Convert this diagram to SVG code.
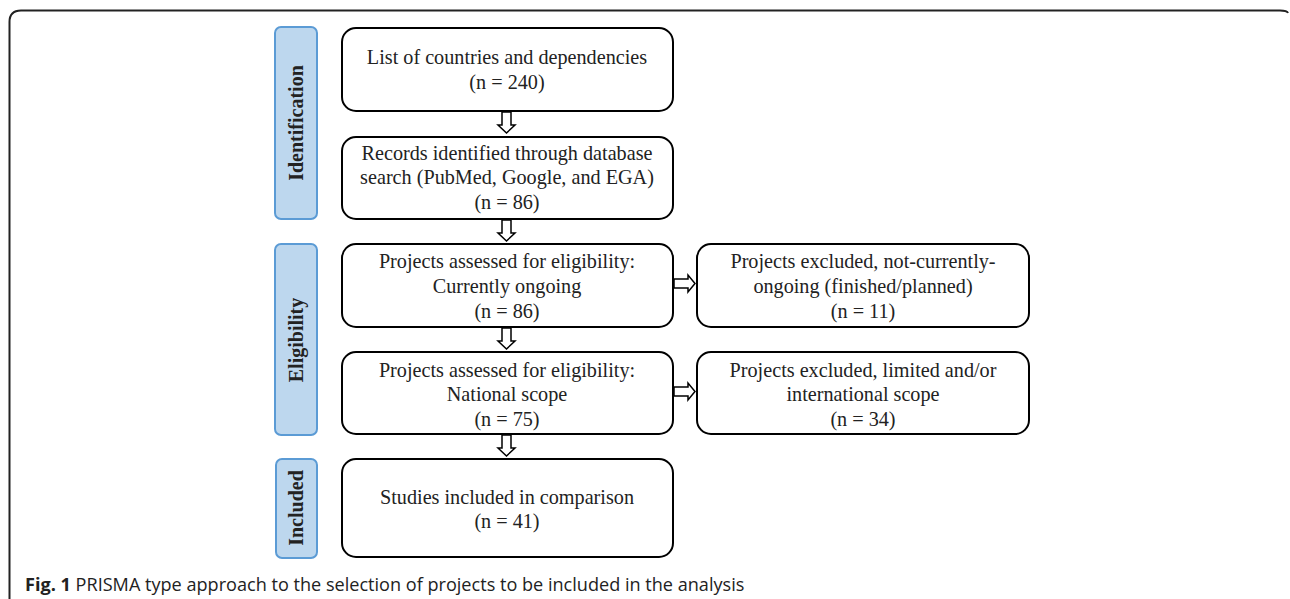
<svg xmlns="http://www.w3.org/2000/svg" width="1290" height="599" viewBox="0 0 1290 599">
<defs>
<style>
.box{fill:#fff;stroke:#000;stroke-width:2}
.side{fill:#bdd7ee;stroke:#5b9bd5;stroke-width:2}
.t{font-family:"Liberation Serif","Times New Roman",serif;font-size:20.2px;fill:#222;text-anchor:middle}
.s{font-family:"Liberation Serif","Times New Roman",serif;font-size:20px;font-weight:bold;fill:#222;text-anchor:middle}
.arr{fill:#fff;stroke:#000;stroke-width:1.5;stroke-linejoin:miter}
.cap{font-family:"Open Sans","Noto Sans",sans-serif;font-size:18.1px;fill:#222}
</style>
</defs>
<path d="M9.5 599 V22 Q9.5 10.5 21 10.5 H1280 Q1287 10.5 1288 13" fill="none" stroke="#222" stroke-width="2"/>
<g id="side-identification"><rect class="side" x="275" y="27" width="42" height="192" rx="6"/><text class="s" transform="translate(303,123) rotate(-90)">Identification</text></g>
<g id="side-eligibility"><rect class="side" x="275" y="244" width="42" height="191" rx="6"/><text class="s" transform="translate(303,340) rotate(-90)">Eligibility</text></g>
<g id="side-included"><rect class="side" x="276" y="459" width="41" height="99" rx="6"/><text class="s" transform="translate(303,508) rotate(-90)">Included</text></g>
<g id="n1"><rect class="box" x="342" y="28" width="331" height="83" rx="14"/><text class="t" x="507" y="64">List of countries and dependencies</text><text class="t" x="507" y="89">(n = 240)</text></g>
<g id="n2"><rect class="box" x="342" y="137" width="331" height="82" rx="14"/><text class="t" x="507" y="160">Records identified through database</text><text class="t" x="507" y="184">search (PubMed, Google, and EGA)</text><text class="t" x="507" y="209">(n = 86)</text></g>
<g id="n3"><rect class="box" x="342" y="244" width="331" height="83" rx="14"/><text class="t" x="507" y="268">Projects assessed for eligibility:</text><text class="t" x="507" y="293">Currently ongoing</text><text class="t" x="507" y="318">(n = 86)</text></g>
<g id="n4"><rect class="box" x="342" y="352" width="331" height="82" rx="14"/><text class="t" x="507" y="377">Projects assessed for eligibility:</text><text class="t" x="507" y="401">National scope</text><text class="t" x="507" y="426">(n = 75)</text></g>
<g id="n5"><rect class="box" x="342" y="459" width="331" height="98" rx="14"/><text class="t" x="507" y="504">Studies included in comparison</text><text class="t" x="507" y="528">(n = 41)</text></g>
<g id="x1"><rect class="box" x="697" y="244" width="332" height="83" rx="14"/><text class="t" x="863" y="268">Projects excluded, not-currently-</text><text class="t" x="863" y="293">ongoing (finished/planned)</text><text class="t" x="863" y="318">(n = 11)</text></g>
<g id="x2"><rect class="box" x="697" y="352" width="332" height="82" rx="14"/><text class="t" x="863" y="377">Projects excluded, limited and/or</text><text class="t" x="863" y="401">international scope</text><text class="t" x="863" y="426">(n = 34)</text></g>
<g id="connectors">
<path class="arr" d="M502 112 H511 V125 H515 L506.5 133 L498 125 H502 Z"/>
<path class="arr" d="M502 220 H511 V233 H515 L506.5 241 L498 233 H502 Z"/>
<path class="arr" d="M502 328 H511 V341 H515 L506.5 349 L498 341 H502 Z"/>
<path class="arr" d="M502 435 H511 V448 H515 L506.5 456 L498 448 H502 Z"/>
<path class="arr" d="M674 279 H688 V275 L695 283.5 L688 292 V288 H674 Z"/>
<path class="arr" d="M674 387 H688 V383 L695 391.5 L688 400 V396 H674 Z"/>
</g>
<text class="cap" x="25" y="591"><tspan font-weight="bold">Fig. 1</tspan> PRISMA type approach to the selection of projects to be included in the analysis</text>
</svg>
